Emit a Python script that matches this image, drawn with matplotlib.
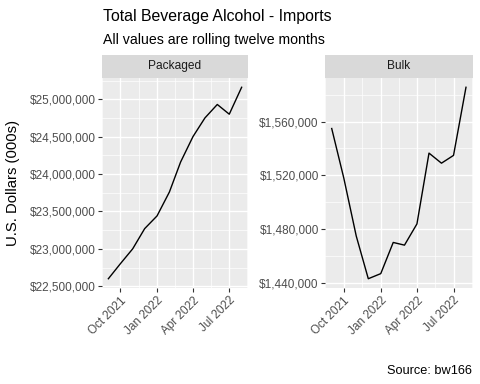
import numpy as np
import matplotlib
matplotlib.use("Agg")
import matplotlib.pyplot as plt
import matplotlib.dates as mdates
from matplotlib.ticker import FuncFormatter, FixedLocator

plt.rcParams['font.family'] = ['Liberation Sans', 'DejaVu Sans']

months = np.array(['2021-09-01', '2021-10-01', '2021-11-01', '2021-12-01',
                   '2022-01-01', '2022-02-01', '2022-03-01', '2022-04-01',
                   '2022-05-01', '2022-06-01', '2022-07-01', '2022-08-01'],
                  dtype='datetime64[D]')
packaged = [22600000, 22800000, 23000000, 23270000, 23440000, 23760000,
            24160000, 24500000, 24750000, 24930000, 24800000, 25160000]
bulk = [1554800, 1518000, 1474800, 1443000, 1446800, 1470000,
        1468000, 1483800, 1536500, 1529000, 1534800, 1585500]
panel_names = ['Packaged', 'Bulk']
packaged_yticks = [22500000, 23000000, 23500000, 24000000, 24500000, 25000000]
bulk_yticks = [1440000, 1480000, 1520000, 1560000]
xtick_dates = np.array(['2021-10-01', '2022-01-01', '2022-04-01', '2022-07-01'],
                       dtype='datetime64[D]')
xtick_labels = ['Oct 2021', 'Jan 2022', 'Apr 2022', 'Jul 2022']

W, H = 480, 384
fig = plt.figure(figsize=(W / 100, H / 100), dpi=100)
fig.patch.set_facecolor('white')

x = mdates.date2num(months.astype('datetime64[s]').astype(object))
xt = mdates.date2num(xtick_dates.astype('datetime64[s]').astype(object))
# minor: midpoints between majors, extended one step each side
step = np.diff(xt)
ext = np.concatenate([[xt[0] - step[0]], xt, [xt[-1] + step[-1]]])
xminor = (ext[:-1] + ext[1:]) / 2


def money(v, pos):
    return '${:,.0f}'.format(v)


def make_panel(x0, x1, values, yticks, name):
    top, strip_h, bottom = 77.7, 22.7, 288.3
    ax = fig.add_axes([x0 / W, 1 - bottom / H, (x1 - x0) / W, (bottom - top) / H])
    ax.set_facecolor('#EBEBEB')
    ax.plot(x, values, color='black', lw=1.0, zorder=3)
    ax.margins(x=0.05, y=0.05)
    ymin, ymax = ax.get_ylim()
    ax.set_xlim(x[0] - 0.05 * (x[-1] - x[0]), x[-1] + 0.05 * (x[-1] - x[0]))
    ax.set_ylim(min(values) - 0.05 * (max(values) - min(values)),
                max(values) + 0.05 * (max(values) - min(values)))
    ax.xaxis.set_major_locator(FixedLocator(xt))
    ax.set_xticklabels(xtick_labels, rotation=45, ha='right', va='top',
                       rotation_mode='anchor')
    ax.xaxis.set_minor_locator(FixedLocator(xminor))
    ax.yaxis.set_major_locator(FixedLocator(yticks))
    ys = yticks[1] - yticks[0]
    ymin_all = [yticks[0] - ys / 2 + k * ys for k in range(len(yticks) + 1)]
    ax.yaxis.set_minor_locator(FixedLocator(ymin_all))
    ax.yaxis.set_major_formatter(FuncFormatter(money))
    ax.grid(which='major', color='white', lw=1.0)
    ax.grid(which='minor', color='white', lw=0.5)
    ax.set_axisbelow(True)
    for s in ax.spines.values():
        s.set_visible(False)
    ax.tick_params(which='major', length=3, width=0.8, color='#333333',
                   labelsize=8.5, labelcolor='#4D4D4D', pad=1.5)
    ax.tick_params(which='minor', length=0)
    # strip
    sax = fig.add_axes([x0 / W, 1 - top / H, (x1 - x0) / W, strip_h / H])
    sax.set_facecolor('#D9D9D9')
    sax.set_xticks([])
    sax.set_yticks([])
    for s in sax.spines.values():
        s.set_visible(False)
    sax.text(0.5, 0.5, name, ha='center', va='center', fontsize=8.6,
             color='#1A1A1A', transform=sax.transAxes)
    return ax


ax1 = make_panel(101.7, 248.3, packaged, packaged_yticks, panel_names[0])
ax2 = make_panel(325.0, 472.7, bulk, bulk_yticks, panel_names[1])

fig.text(103 / W, 1 - 21 / H, 'Total Beverage Alcohol - Imports', fontsize=11.4,
         ha='left', va='baseline', color='black')
fig.text(103 / W, 1 - 44 / H, 'All values are rolling twelve months', fontsize=10.2,
         ha='left', va='baseline', color='black')
fig.text(13 / W, 1 - 183 / H, 'U.S. Dollars (000s)', fontsize=10.7, rotation=90,
         ha='center', va='center', color='black')
fig.text(472 / W, 1 - 374 / H, 'Source: bw166', fontsize=9.2, ha='right',
         va='baseline', color='black')

fig.savefig('out.png', dpi=100)
